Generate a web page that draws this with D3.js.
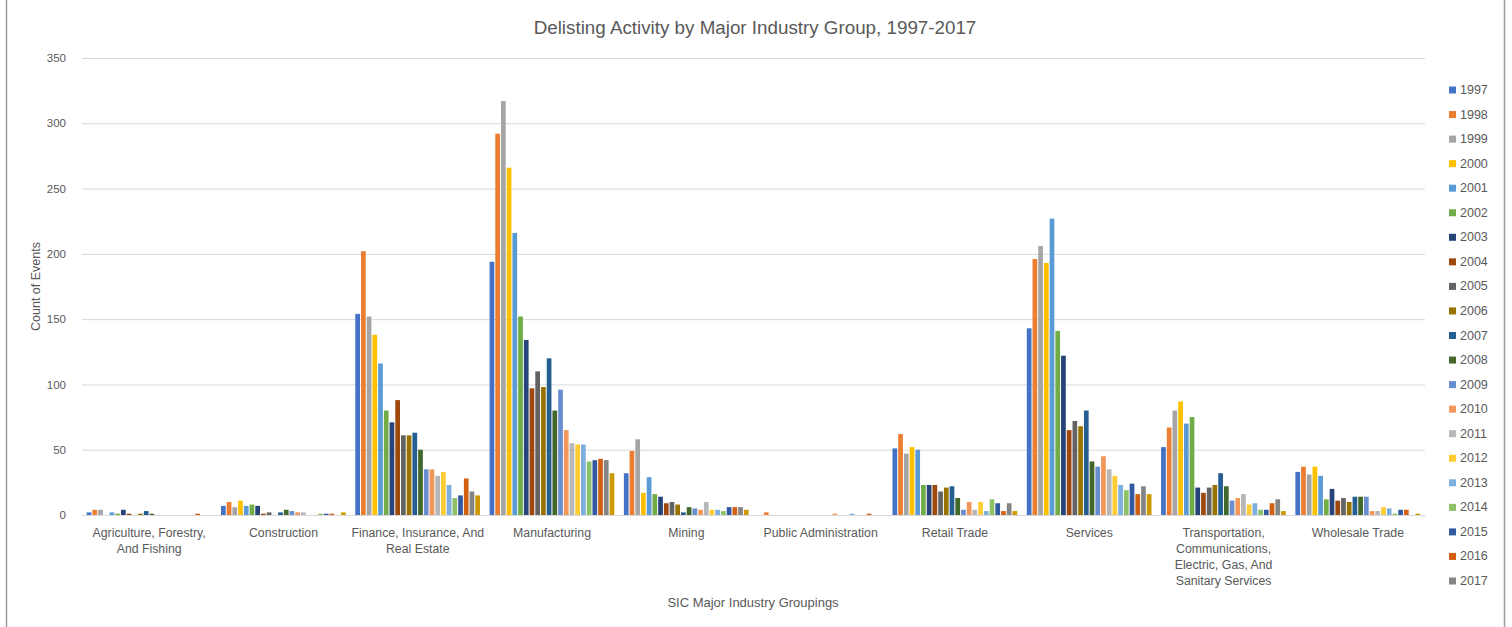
<!DOCTYPE html>
<html>
<head>
<meta charset="utf-8">
<title>Delisting Activity by Major Industry Group, 1997-2017</title>
<script src="https://cdn.jsdelivr.net/npm/d3@7"></script>
<style>
    body {
        margin:0;
        background:#fff;
    }
    svg {
        display:block;
        font-family:'Liberation Sans', Arial, sans-serif;
    }
    .axis text, .legend text, .label {
        fill:#595959;
    }
</style>
</head>
<body>
<svg id="chart" width="1512" height="627"></svg>
<script>
// categories (SIC major industry groups) and the wrapped tick labels
const categories = ["Agriculture", "Construction", "Finance", "Manufacturing", "Mining",
    "Public Administration", "Retail Trade", "Services", "Transportation", "Wholesale Trade"];
const categoryLabels = [
    ["Agriculture, Forestry,", "And Fishing"],
    ["Construction"],
    ["Finance, Insurance, And", "Real Estate"],
    ["Manufacturing"],
    ["Mining"],
    ["Public Administration"],
    ["Retail Trade"],
    ["Services"],
    ["Transportation,", "Communications,", "Electric, Gas, And", "Sanitary Services"],
    ["Wholesale Trade"]
];

// one series per year (the last one has no legend entry in the original)
const years = ["1997", "1998", "1999", "2000", "2001", "2002", "2003", "2004", "2005", "2006", "2007",
    "2008", "2009", "2010", "2011", "2012", "2013", "2014", "2015", "2016", "2017", "2018"];
const legendYears = years.slice(0, 21);
const colors = ["#4472C4", "#ED7D31", "#A5A5A5", "#FFC000", "#5B9BD5", "#70AD47", "#264478",
    "#9E480E", "#636363", "#997300", "#255E91", "#43682B", "#698ED0", "#F1975A", "#B7B7B7",
    "#FFCD33", "#7CAFDD", "#8CC168", "#335AA1", "#D26012", "#848484", "#CC9A00"];

// counts per year, one array per industry group
const agriculture   = [2, 4, 4, 0, 2, 1, 4, 1, 0, 1, 3, 1, 0, 0, 0, 0, 0, 0, 0, 1, 0, 0];
const construction  = [7, 10, 6, 11, 7, 8, 7, 1, 2, 0, 2, 4, 3, 2, 2, 0, 0, 1, 1, 1, 0, 2];
const finance       = [154, 202, 152, 138, 116, 80, 71, 88, 61, 61, 63, 50, 35, 35, 30, 33, 23, 13, 15, 28, 18, 15];
const manufacturing = [194, 292, 317, 266, 216, 152, 134, 97, 110, 98, 120, 80, 96, 65, 55, 54, 54, 41, 42, 43, 42, 32];
const mining        = [32, 49, 58, 17, 29, 16, 14, 9, 10, 8, 2, 6, 5, 4, 10, 4, 4, 3, 6, 6, 6, 4];
const publicAdmin   = [0, 2, 0, 0, 0, 0, 0, 0, 0, 0, 0, 0, 0, 1, 0, 0, 1, 0, 0, 1, 0, 0];
const retail        = [51, 62, 47, 52, 50, 23, 23, 23, 18, 21, 22, 13, 4, 10, 4, 10, 3, 12, 9, 3, 9, 3];
const services      = [143, 196, 206, 193, 227, 141, 122, 65, 72, 68, 80, 41, 37, 45, 35, 30, 23, 19, 24, 16, 22, 16];
const transport     = [52, 67, 80, 87, 70, 75, 21, 17, 21, 23, 32, 22, 11, 13, 16, 8, 9, 4, 4, 9, 12, 3];
const wholesale     = [33, 37, 31, 37, 30, 12, 20, 11, 13, 10, 14, 14, 14, 3, 3, 6, 5, 1, 4, 4, 0, 1];

const yTicks = [0, 50, 100, 150, 200, 250, 300, 350];

const groups = [agriculture, construction, finance, manufacturing, mining,
    publicAdmin, retail, services, transport, wholesale];

// flat table for the bars
const rows = [];
groups.forEach((vals, ci) => {
    vals.forEach((v, si) => {
        rows.push({cat: categories[ci], year: years[si], value: v, color: colors[si]});
    });
});

// layout
const dims = {width: 1512, height: 627};
const plot = {left: 82, right: 1425, top: 58, bottom: 515};

const svg = d3.select('#chart');

svg.append('rect')
    .attr('x', 0).attr('y', 0)
    .attr('width', dims.width).attr('height', dims.height)
    .attr('fill', '#fff');

// chart border (top and bottom fall outside the picture)
svg.append('rect')
    .attr('x', 6.5).attr('y', -2)
    .attr('width', 1498).attr('height', 640)
    .attr('fill', 'none')
    .attr('stroke', '#9c9c9c')
    .attr('stroke-width', 1.5);

let x0 = d3.scaleBand()
    .domain(categories)
    .range([plot.left, plot.right]);
let x1 = d3.scaleBand()
    .domain(years)
    .range([0, x0.bandwidth()])
    .paddingOuter(0.75);
let yScale = d3.scaleLinear()
    .domain([0, 350])
    .range([plot.bottom, plot.top]);

// gridlines + y tick labels
let yAxis = d3.axisLeft(yScale)
    .tickValues(yTicks)
    .tickSizeInner(-(plot.right - plot.left))
    .tickSizeOuter(0)
    .tickPadding(16);

let gy = svg.append('g')
    .attr('class', 'axis')
    .attr('transform', `translate(${plot.left},0)`)
    .call(yAxis);
gy.select('.domain').remove();
gy.selectAll('line').attr('stroke', '#d9d9d9');
gy.selectAll('text').attr('font-size', '11.5px');

// bars
svg.append('g')
    .selectAll('rect')
    .data(rows.filter(d => d.value > 0))
    .enter().append('rect')
    .attr('x', d => x0(d.cat) + x1(d.year) + 0.4)
    .attr('width', x1.bandwidth() - 1)
    .attr('y', d => yScale(d.value))
    .attr('height', d => yScale(0) - yScale(d.value))
    .attr('fill', d => d.color);

// category axis
let xAxis = d3.axisBottom(x0).tickSize(0).tickPadding(0);
let gx = svg.append('g')
    .attr('class', 'axis')
    .attr('transform', `translate(0,${plot.bottom})`)
    .call(xAxis);
gx.select('.domain').attr('stroke', '#d9d9d9');
gx.selectAll('.tick text')
    .attr('font-size', '12.3px')
    .attr('dy', null)
    .attr('y', 22)
    .text(null)
    .each(function(d, i) {
        let t = d3.select(this);
        categoryLabels[i].forEach((line, li) => {
            t.append('tspan')
                .attr('x', 0)
                .attr('y', 22 + li * 16)
                .text(line);
        });
    });

// titles
svg.append('text')
    .attr('class', 'label')
    .attr('x', 755).attr('y', 34)
    .attr('text-anchor', 'middle')
    .attr('font-size', '18.8px')
    .text('Delisting Activity by Major Industry Group, 1997-2017');

svg.append('text')
    .attr('class', 'label')
    .attr('x', 753).attr('y', 607)
    .attr('text-anchor', 'middle')
    .attr('font-size', '13px')
    .text('SIC Major Industry Groupings');

svg.append('text')
    .attr('class', 'label')
    .attr('transform', `translate(40,${(plot.top + plot.bottom) / 2}) rotate(-90)`)
    .attr('text-anchor', 'middle')
    .attr('font-size', '12.5px')
    .text('Count of Events');

// legend
let legendY = d3.scaleLinear()
    .domain([0, legendYears.length - 1])
    .range([90, 581]);

let legend = svg.append('g')
    .attr('class', 'legend')
    .selectAll('g')
    .data(legendYears)
    .enter().append('g')
    .attr('transform', (d, i) => `translate(1449,${legendY(i)})`);

legend.append('rect')
    .attr('x', 0).attr('y', -3.5)
    .attr('width', 7).attr('height', 7)
    .attr('fill', (d, i) => colors[i]);

legend.append('text')
    .attr('x', 11).attr('y', 4)
    .attr('font-size', '12.5px')
    .text(d => d);
</script>
</body>
</html>
